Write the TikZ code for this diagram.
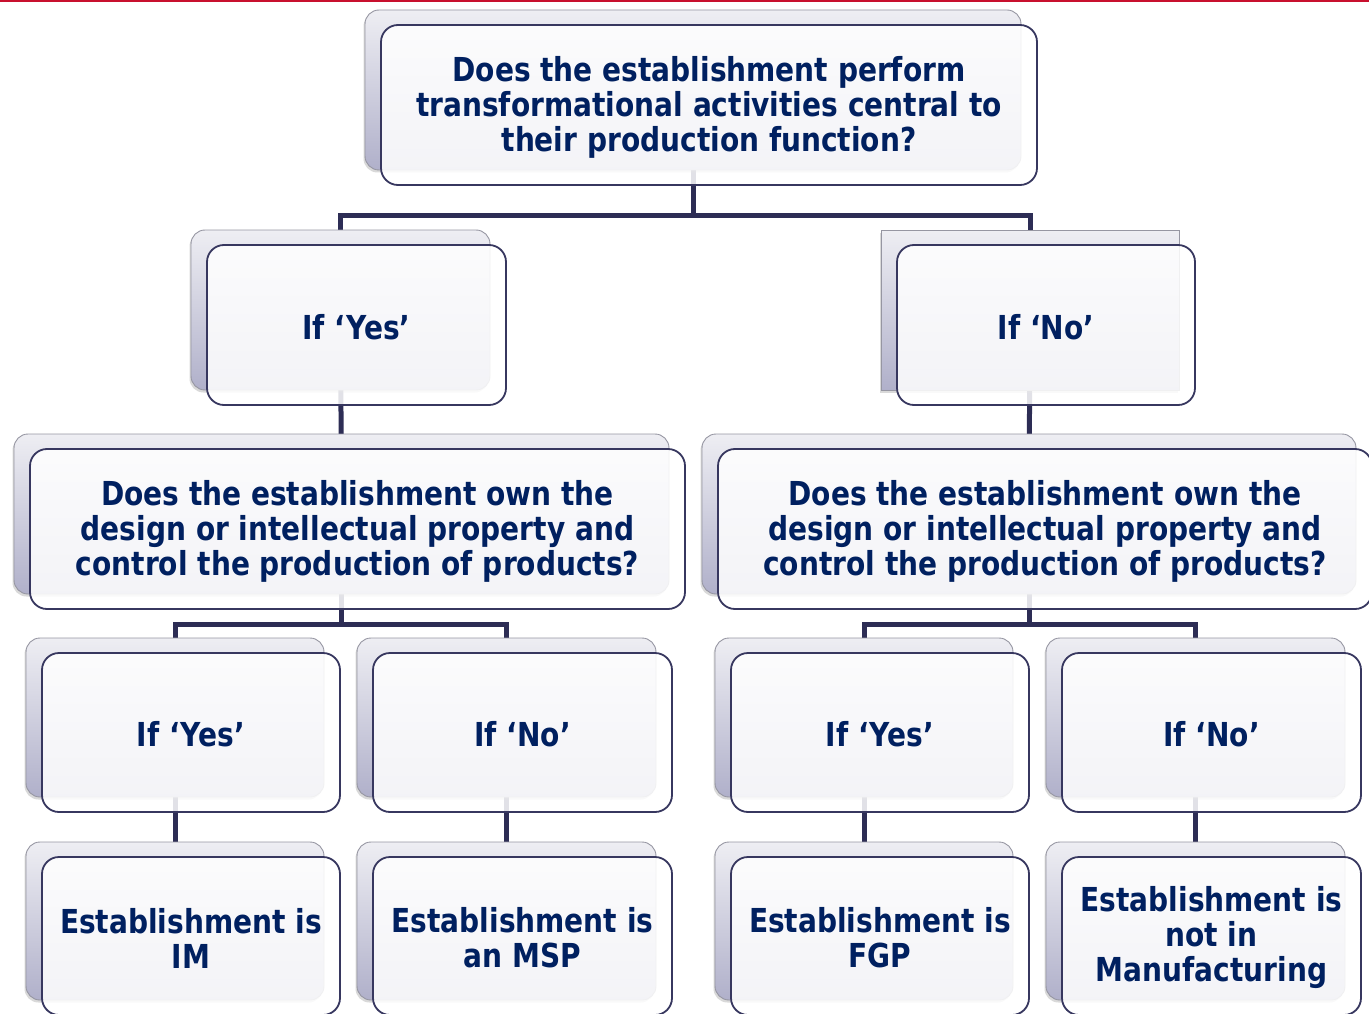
\documentclass[tikz,border=0pt]{standalone}
\usepackage{fontspec}
\newfontfamily\dfont[FakeStretch=0.85]{DejaVu Sans}
\usetikzlibrary{calc,shadows}
\definecolor{navytext}{RGB}{0,32,96}
\definecolor{frameb}{RGB}{55,55,95}
\definecolor{connc}{RGB}{45,45,85}
\definecolor{backtop}{RGB}{238,238,243}
\definecolor{backbot}{RGB}{176,176,202}
\definecolor{backline}{RGB}{150,150,162}
\definecolor{topred}{RGB}{200,16,46}
\pgfdeclarelayer{bg}
\pgfsetlayers{bg,main}
\tikzset{
  backbox/.style={draw=backline, line width=0.9pt, rounded corners=14pt,
    top color=backtop, bottom color=backbot, inner sep=0pt,
    drop shadow={shadow xshift=-1.5pt, shadow yshift=-2.5pt, fill=black!60, opacity=0.25}},
  sqback/.style={backbox, sharp corners},
  frontbox/.style={draw=frameb, line width=1.8pt, rounded corners=17pt,
    fill=white, fill opacity=0.86, inner sep=0pt},
  boxtext/.style={text=navytext, text opacity=1, fill opacity=1,
    font=\dfont\bfseries\fontsize{33}{35}\selectfont, align=center, inner sep=0pt},
  conn/.style={draw=connc, line width=5pt}
}
\newcommand\pairbox[7][backbox]{%
  \node[#1, minimum width=#5, minimum height=#6] (#2b) at ($(#3,#4)+(-16,-15)$) {};
  \node[frontbox, minimum width=#5, minimum height=#6,
        label={[boxtext, yshift=-2pt, name=#2t]center:#7}] (#2) at (#3,#4) {};
}
\begin{document}
\begin{tikzpicture}[x=1pt,y=-1pt]
\useasboundingbox (0,0) rectangle (1369,1014);
\fill[topred] (0,0) rectangle (1369,1.6);
% level 0
\pairbox{q0}{709}{105}{656pt}{160pt}{Does the establishment perform\\transformational activities central to\\their production function?}
% level 1
\pairbox{y1}{356.5}{325}{299pt}{160pt}{If ‘Yes’}
\pairbox[sqback]{n1}{1046}{325}{298pt}{160pt}{If ‘No’}
% level 2
\pairbox{qL}{357.5}{529}{655pt}{160pt}{Does the establishment own the\\design or intellectual property and\\control the production of products?}
\pairbox{qR}{1045}{529}{654pt}{160pt}{Does the establishment own the\\design or intellectual property and\\control the production of products?}
% level 3
\pairbox{a3}{191}{732.5}{298pt}{159pt}{If ‘Yes’}
\pairbox{b3}{522.5}{732.5}{299pt}{159pt}{If ‘No’}
\pairbox{c3}{880}{732.5}{298pt}{159pt}{If ‘Yes’}
\pairbox{d3}{1211.5}{732.5}{299pt}{159pt}{If ‘No’}
% level 4
\pairbox{a4}{191}{936}{298pt}{158pt}{Establishment is\\IM}
\pairbox{b4}{522.5}{936}{299pt}{158pt}{Establishment is\\an MSP}
\pairbox{c4}{880}{936}{298pt}{158pt}{Establishment is\\FGP}
\pairbox{d4}{1211.5}{936}{299pt}{158pt}{Establishment is\\not in\\Manufacturing}
% connectors
\coordinate (j0) at (0,215);
\coordinate (jL) at (0,624);
\coordinate (jR) at (0,624);
\begin{pgfonlayer}{bg}
\draw[conn] (q0b.center) -- (q0b.center |- j0) -| (y1b.center);
\draw[conn] (q0b.center |- j0) -| (n1b.center);
\draw[conn] (y1b.center) -- (qLb.center);
\draw[conn] (n1b.center) -- (qRb.center);
\draw[conn] (qLb.center) -- (qLb.center |- jL) -| (a3b.center);
\draw[conn] (qLb.center |- jL) -| (b3b.center);
\draw[conn] (qRb.center) -- (qRb.center |- jR) -| (c3b.center);
\draw[conn] (qRb.center |- jR) -| (d3b.center);
\draw[conn] (a3b.center) -- (a4b.center);
\draw[conn] (b3b.center) -- (b4b.center);
\draw[conn] (c3b.center) -- (c4b.center);
\draw[conn] (d3b.center) -- (d4b.center);
\end{pgfonlayer}
\end{tikzpicture}
\end{document}
